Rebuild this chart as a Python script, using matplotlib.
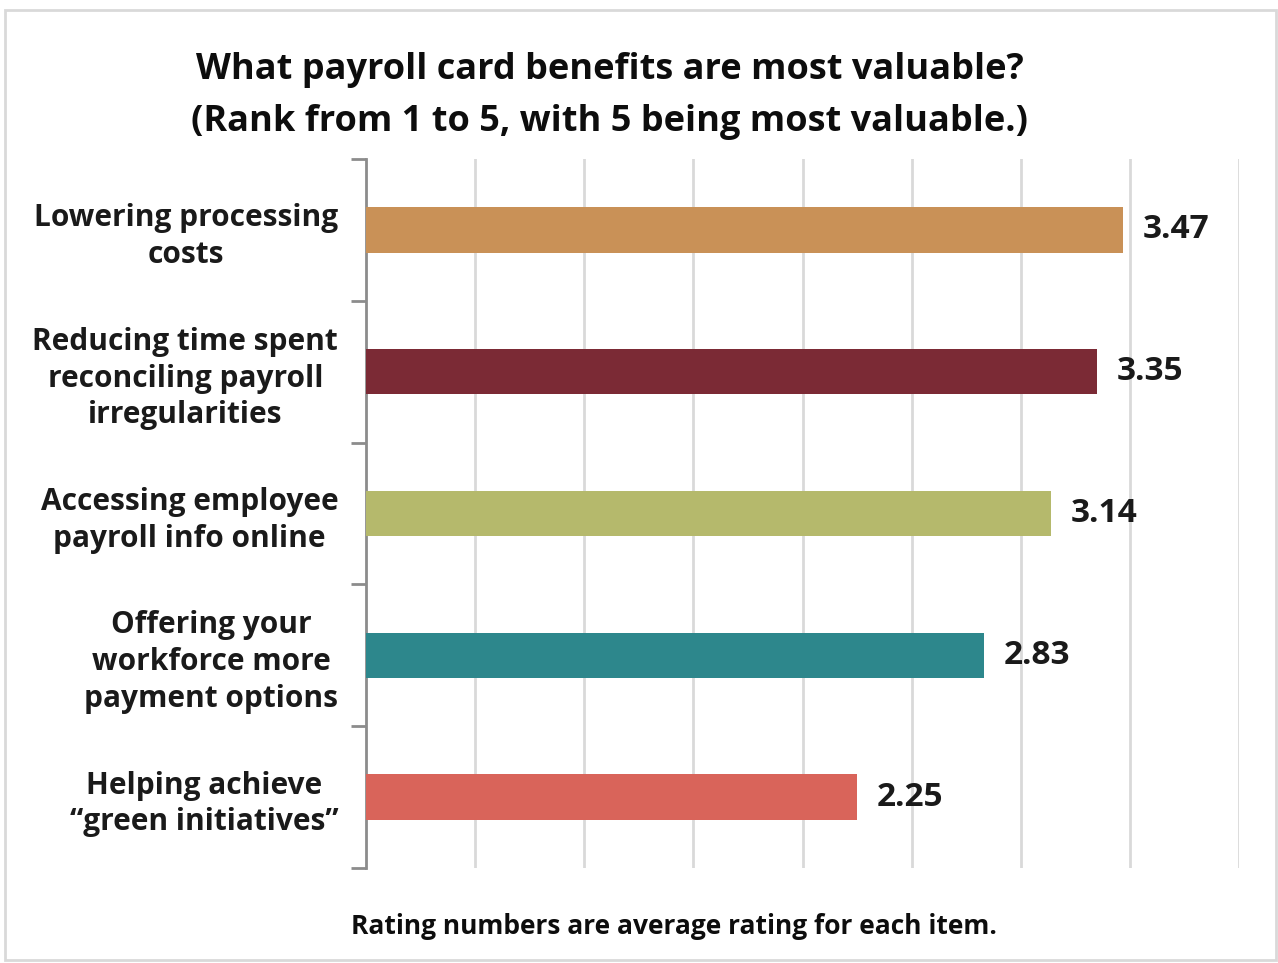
import matplotlib.pyplot as plt
from matplotlib.patches import Rectangle

# survey results (top to bottom)
categories = [
    "Lowering processing\ncosts",
    "Reducing time spent\nreconciling payroll\nirregularities",
    "Accessing employee\npayroll info online",
    "Offering your\nworkforce more\npayment options",
    "Helping achieve\n\u201cgreen initiatives\u201d",
]
ratings = [3.47, 3.35, 3.14, 2.83, 2.25]
bar_colors = ["#C99157", "#7B2A35", "#B5B96C", "#2D878C", "#D9645A"]

plt.rcParams["font.family"] = ["Open Sans", "DejaVu Sans"]

fig = plt.figure(figsize=(12.78, 9.63), dpi=100)
ax = fig.add_axes([0.2864, 0.0987, 0.9695 - 0.2864, 0.8349 - 0.0987])

pos = list(range(len(categories)))
ax.barh(pos, ratings, height=0.32, color=bar_colors, zorder=3)
ax.set_ylim(len(categories) - 0.5, -0.5)
ax.set_xlim(0, 4)

for p, v in zip(pos, ratings):
    ax.text(v + 0.09, p, f"{v:.2f}", va="center", ha="left",
            fontsize=24, fontweight="bold", color="#1a1a1a")

# gridlines every 0.5, no x labels
ax.set_xticks([i * 0.5 for i in range(1, 9)])
ax.tick_params(axis="x", length=0, labelbottom=False)
ax.grid(axis="x", color="#D9D9D9", linewidth=2, zorder=0)

# category labels at bar centres, tick marks at boundaries
ax.set_yticks(pos)
ax.set_yticklabels(categories, fontsize=21.5, fontweight="bold",
                   multialignment="center", color="#1a1a1a", linespacing=1.29)
ax.tick_params(axis="y", which="major", length=0, pad=20)
ax.set_yticks([i - 0.5 for i in range(len(categories) + 1)], minor=True)
ax.tick_params(axis="y", which="minor", length=11, width=2, color="#8C8C8C")

for s in ["top", "right", "bottom"]:
    ax.spines[s].set_visible(False)
ax.spines["left"].set_color("#8C8C8C")
ax.spines["left"].set_linewidth(2)

fig.text(0.477, 0.9005, "What payroll card benefits are most valuable?\n(Rank from 1 to 5, with 5 being most valuable.)",
         ha="center", va="center", fontsize=26, fontweight="bold",
         linespacing=1.6, color="#0d0d0d")
fig.text(0.527, 0.038, "Rating numbers are average rating for each item.",
         ha="center", va="center", fontsize=19, fontweight="bold", color="#0d0d0d")

fig.patches.append(Rectangle((5 / 1278, 3 / 963), 1271 / 1278, 950 / 963,
                             transform=fig.transFigure, fill=False,
                             edgecolor="#D9D9D9", linewidth=2))

fig.savefig("out.png", dpi=100)
